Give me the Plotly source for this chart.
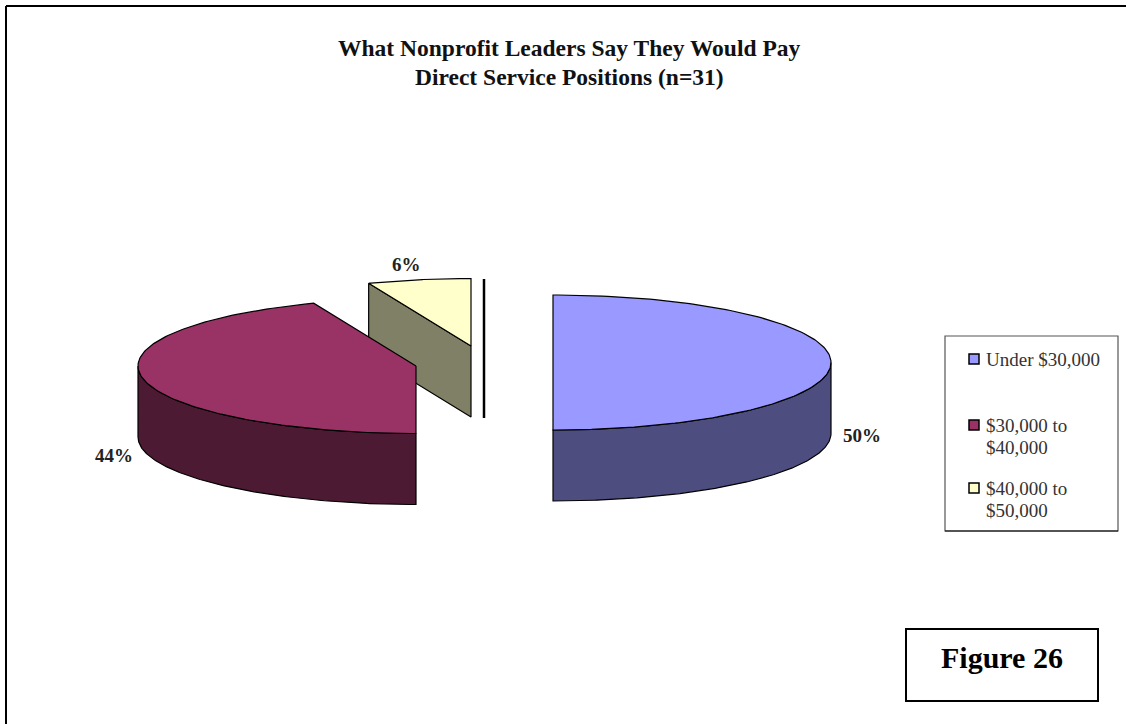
import numpy as np
import plotly.graph_objects as go

# Survey shares and labels
CATEGORIES = ["Under $30,000", "$30,000 to<br>$40,000", "$40,000 to<br>$50,000"]
VALUES = [50, 44, 6]
TOP_COLORS = ["#9999FF", "#993366", "#FFFFCC"]
SIDE_COLORS = ["#4D4D80", "#4D1A33", "#808066"]
TITLE_LINES = ["What Nonprofit Leaders Say They Would Pay", "Direct Service Positions (n=31)"]
FIGURE_LABEL = "Figure 26"

# Projection of the tilted, exploded pie, in page pixels
CENTERS = [(553, 362.5), (416, 366), (471, 346)]
RX, RY, DEPTH = 278, 67.5, 71
LABEL_POS = [(861.5, 435), (113.5, 455), (406.5, 264)]
LEGEND_ROWS = [359, 425, 488]
SERIF = "Liberation Serif"
OUTLINE = dict(color="black", width=1.2)


def rim(center, start, end, n=160):
    """Points along the ellipse, angles as clockwise-from-top fractions of a turn."""
    t = np.linspace(start, end, n) * 2 * np.pi
    return center[0] + RX * np.sin(t), center[1] - RY * np.cos(t)


def polygon(fig, xs, ys, color):
    fig.add_trace(go.Scatter(x=np.r_[xs, xs[0]], y=np.r_[ys, ys[0]], mode="lines",
                             fill="toself", fillcolor=color, line=OUTLINE,
                             hoverinfo="skip", showlegend=False))


fractions = np.cumsum([0] + VALUES) / sum(VALUES)
fig = go.Figure()

# Painted back to front: smallest wedge, then the two large ones
for i in (2, 1, 0):
    start, end = fractions[i], fractions[i + 1]
    cx, cy = CENTERS[i]
    x, y = rim(CENTERS[i], start, end)

    # Outer wall, only where the rim faces the viewer (lower half of the ellipse)
    lo, hi = max(start, 0.25), min(end, 0.75)
    if lo < hi:
        wx, wy = rim(CENTERS[i], lo, hi)
        polygon(fig, np.r_[wx, wx[::-1]], np.r_[wy, wy[::-1] + DEPTH], SIDE_COLORS[i])

    # Cut face of the wedge that stands apart from the others
    if i == 2:
        polygon(fig, [x[0], cx, cx, x[0]], [y[0], cy, cy + DEPTH, y[0] + DEPTH], SIDE_COLORS[i])

    polygon(fig, np.r_[cx, x], np.r_[cy, y], TOP_COLORS[i])

# Legend swatches and their wrapped labels
fig.add_trace(go.Scatter(x=[974] * len(LEGEND_ROWS), y=LEGEND_ROWS, mode="markers",
                         marker=dict(symbol="square", size=10, color=TOP_COLORS,
                                     line=dict(color="black", width=1.5)),
                         hoverinfo="skip", showlegend=False))
for name, row in zip(CATEGORIES, LEGEND_ROWS):
    for k, line in enumerate(name.split("<br>")):
        fig.add_annotation(x=984, y=row + 22 * k, text=line, showarrow=False, xanchor="left",
                           font=dict(family=SERIF, size=19, color="#333333"))

for v, (lx, ly) in zip(VALUES, LABEL_POS):
    fig.add_annotation(x=lx, y=ly, text=f"<b>{v}%</b>", showarrow=False,
                       font=dict(family=SERIF, size=19, color="#222222"))

for text, ty in zip(TITLE_LINES, (48, 77)):
    fig.add_annotation(x=569, y=ty, text=f"<b>{text}</b>", showarrow=False,
                       font=dict(family=SERIF, size=23.5, color="#111111"))

fig.add_annotation(x=1002, y=657, text=f"<b>{FIGURE_LABEL}</b>", showarrow=False,
                   font=dict(family=SERIF, size=30, color="black"))

shapes = [
    # Page frame: only the top and left rules fall inside the page
    dict(type="line", x0=6, y0=6, x1=1126, y1=6, line=dict(color="black", width=2)),
    dict(type="line", x0=6, y0=6, x1=6, y1=724, line=dict(color="black", width=2)),
    # Stray rule beside the small wedge
    dict(type="line", x0=484, y0=279, x1=484, y1=418, line=dict(color="black", width=2.5)),
    # Legend box
    dict(type="rect", x0=945, y0=336, x1=1118, y1=531, line=dict(color="#555555", width=1.2)),
    dict(type="line", x0=945, y0=531, x1=1118, y1=531, line=dict(color="black", width=1.2)),
    # Figure tag box
    dict(type="rect", x0=906, y0=629, x1=1098, y1=701, line=dict(color="black", width=2)),
]

fig.update_layout(
    width=1126, height=724, margin=dict(l=0, r=0, t=0, b=0),
    paper_bgcolor="white", plot_bgcolor="white", shapes=shapes, showlegend=False,
    xaxis=dict(range=[0, 1126], visible=False, fixedrange=True),
    yaxis=dict(range=[724, 0], visible=False, fixedrange=True),
)

fig.write_html("out.html")
